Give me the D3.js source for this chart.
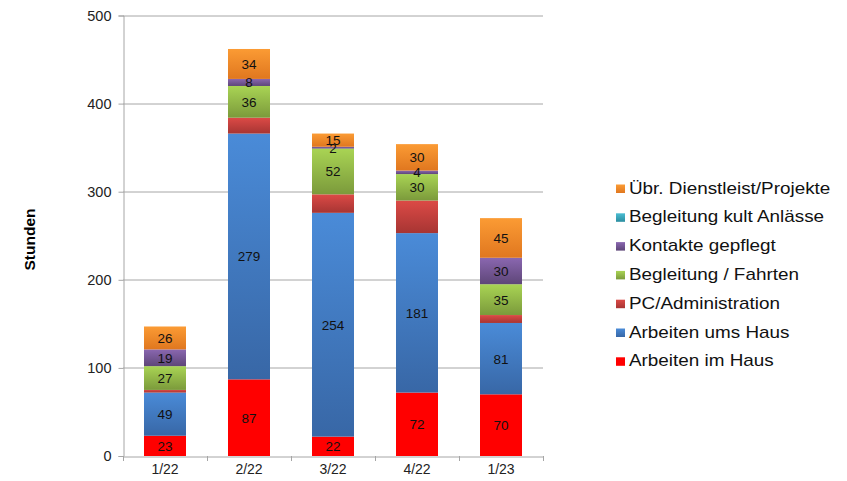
<!DOCTYPE html>
<meta charset="utf-8">
<style>
  body { margin: 0; background: #fff; }
  text { font-family: "Liberation Sans", Arial, sans-serif; }
</style>
<svg width="847" height="481"></svg>
<script src="https://d3js.org/d3.v7.min.js"></script>
<script>

    // data
    var categories = ["1/22", "2/22", "3/22", "4/22", "1/23"];
    var seriesNames = ["Arbeiten im Haus", "Arbeiten ums Haus", "PC/Administration",
        "Begleitung / Fahrten", "Kontakte gepflegt", "Begleitung kult Anlässe", "Übr. Dienstleist/Projekte"];
    var arbeitenImHaus   = [23, 87, 22, 72, 70];
    var arbeitenUmsHaus  = [49, 279, 254, 181, 81];
    var pcAdmin          = [3, 18, 21, 37, 9];
    var begleitung       = [27, 36, 52, 30, 35];
    var kontakte         = [19, 8, 2, 4, 30];
    var kultAnlaesse     = [0, 0, 0, 0, 0];
    var uebrige          = [26, 34, 15, 30, 45];
    var yTicks = [0, 100, 200, 300, 400, 500];

    var values = [arbeitenImHaus, arbeitenUmsHaus, pcAdmin, begleitung, kontakte, kultAnlaesse, uebrige];
    // which series get a number printed in the segment
    var labelled = [true, true, false, true, true, false, true];
    // gradient top / bottom per series
    var colors = [
        ["#ff0000", "#ff0000"],
        ["#4a8bd8", "#3867a6"],
        ["#dc4a46", "#a73533"],
        ["#a9d454", "#7b9a3b"],
        ["#8a67b0", "#5e4678"],
        ["#4bbdd2", "#2a8da0"],
        ["#fb9b34", "#e0771f"]
    ];

    var svg = d3.select("svg"),
        margin = {left: 123, top: 15.5, right: 304, bottom: 25},
        width = 847 - margin.left - margin.right,
        height = 481 - margin.top - margin.bottom;

    var rows = categories.map(function(c, i) {
        var r = {cat: c};
        seriesNames.forEach(function(s, j) { r[s] = values[j][i]; });
        return r;
    });
    var stacked = d3.stack().keys(seriesNames)(rows);

    var x = d3.scaleBand().domain(categories).range([0, width]).paddingInner(0.5).paddingOuter(0.25);
    var y = d3.scaleLinear().domain([0, 500]).range([height, 0]);

    var defs = svg.append("defs");
    colors.forEach(function(c, j) {
        var gr = defs.append("linearGradient").attr("id", "g" + j)
            .attr("x1", 0).attr("y1", 0).attr("x2", 0).attr("y2", 1);
        gr.append("stop").attr("offset", "0%").attr("stop-color", c[0]);
        gr.append("stop").attr("offset", "100%").attr("stop-color", c[1]);
    });

    var g = svg.append("g").attr("transform", "translate(" + margin.left + "," + margin.top + ")");

    // grid
    g.append("g").selectAll("line").data(yTicks.slice(1)).enter().append("line")
        .attr("x1", 0).attr("x2", width)
        .attr("y1", function(d) { return Math.round(y(d)) + 0.5; })
        .attr("y2", function(d) { return Math.round(y(d)) + 0.5; })
        .attr("stroke", "#a6a6a6");

    // y axis
    var yAxis = g.append("g").attr("transform", "translate(0.5,0)")
        .call(d3.axisLeft(y).tickValues(yTicks).tickSize(5).tickPadding(7));
    yAxis.select(".domain").attr("stroke", "#a6a6a6");
    yAxis.selectAll(".tick line").attr("stroke", "#a6a6a6");
    yAxis.selectAll("text").attr("font-size", 14.5).attr("fill", "#222")
        .attr("font-family", "Liberation Sans, Arial, sans-serif");

    // x axis
    var xAxis = g.append("g").attr("transform", "translate(0," + (height + 0.5) + ")")
        .call(d3.axisBottom(x).tickSize(0).tickPadding(8));
    xAxis.select(".domain").attr("stroke", "#a6a6a6");
    xAxis.selectAll("text").attr("font-size", 14).attr("fill", "#222")
        .attr("font-family", "Liberation Sans, Arial, sans-serif");
    // tick marks between categories
    g.append("g").selectAll("line").data(d3.range(categories.length + 1)).enter().append("line")
        .attr("x1", function(i) { return Math.round(i * width / categories.length) + 0.5; })
        .attr("x2", function(i) { return Math.round(i * width / categories.length) + 0.5; })
        .attr("y1", height).attr("y2", height + 5)
        .attr("stroke", "#a6a6a6");

    // bars
    var layers = g.append("g").selectAll("g").data(stacked).enter().append("g")
        .attr("fill", function(d, j) { return "url(#g" + j + ")"; });
    layers.selectAll("rect").data(function(d) { return d; }).enter().append("rect")
        .filter(function(d) { return d[1] - d[0] > 0; })
        .attr("x", function(d) { return x(d.data.cat); })
        .attr("width", x.bandwidth())
        .attr("y", function(d) { return y(d[1]); })
        .attr("height", function(d) { return y(d[0]) - y(d[1]); });

    // value labels
    stacked.forEach(function(layer, j) {
        if (!labelled[j]) return;
        g.append("g").selectAll("text").data(layer).enter().append("text")
            .filter(function(d) { return d[1] - d[0] > 0; })
            .attr("x", function(d) { return x(d.data.cat) + x.bandwidth() / 2; })
            .attr("y", function(d) { return (y(d[0]) + y(d[1])) / 2 + 5; })
            .attr("text-anchor", "middle")
            .attr("font-size", 13.5)
            .attr("fill", "#111")
            .text(function(d) { return d[1] - d[0]; });
    });

    // y title
    svg.append("text")
        .attr("transform", "translate(35,239.5) rotate(-90)")
        .attr("text-anchor", "middle")
        .attr("font-size", 15.5).attr("font-weight", "bold")
        .text("Stunden");

    // legend
    var legend = svg.append("g").attr("transform", "translate(616,193.5)");
    var items = legend.selectAll("g").data(seriesNames.slice().reverse()).enter().append("g")
        .attr("transform", function(d, i) { return "translate(0," + i * 28.8 + ")"; });
    items.append("rect")
        .attr("x", 0).attr("y", -9).attr("width", 9).attr("height", 8.5)
        .attr("fill", function(d) { return "url(#g" + seriesNames.indexOf(d) + ")"; });
    items.append("text")
        .attr("transform", "translate(13,0) scale(1.18,1)")
        .attr("font-size", 16).attr("fill", "#111")
        .text(function(d) { return d; });
</script>
